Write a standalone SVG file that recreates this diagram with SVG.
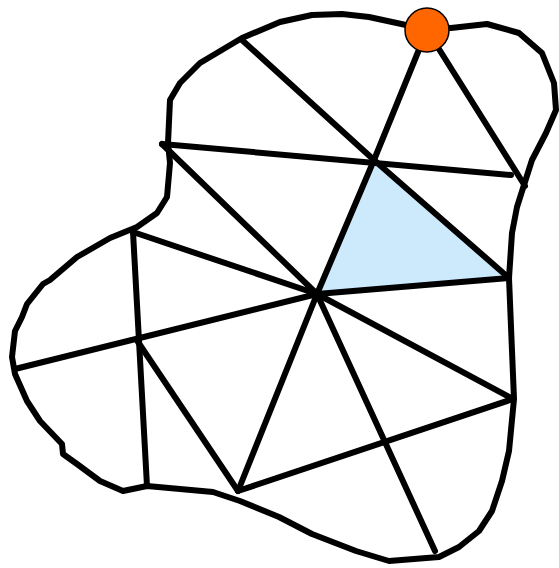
<svg xmlns="http://www.w3.org/2000/svg" width="559" height="568" viewBox="0 0 559 568">
<style>
.ln{stroke:#000;stroke-width:6;stroke-linecap:round;fill:none}
.bd{stroke:#000;stroke-width:6;stroke-linejoin:round;fill:none}
</style>
<rect width="559" height="568" fill="#fff"/>
<polygon points="374,160 317,294 509,278" fill="#cdeafd"/>
<g id="connectors">
<line class="ln" x1="242" y1="40" x2="374" y2="160"/>
<line class="ln" x1="427" y1="30" x2="374" y2="160"/>
<line class="ln" x1="427" y1="30" x2="525" y2="186"/>
<line class="ln" x1="162" y1="144" x2="511" y2="175"/>
<line class="ln" x1="162" y1="144" x2="317" y2="294"/>
<line class="ln" x1="374" y1="160" x2="509" y2="278"/>
<line class="ln" x1="374" y1="160" x2="317" y2="294"/>
<line class="ln" x1="317" y1="294" x2="509" y2="278"/>
<line class="ln" x1="133" y1="232" x2="317" y2="294"/>
<line class="ln" x1="133" y1="232" x2="147" y2="486"/>
<line class="ln" x1="15" y1="369" x2="317" y2="294"/>
<line class="ln" x1="138" y1="342" x2="238" y2="491"/>
<line class="ln" x1="317" y1="294" x2="238" y2="491"/>
<line class="ln" x1="317" y1="294" x2="513" y2="399"/>
<line class="ln" x1="317" y1="294" x2="435" y2="551"/>
<line class="ln" x1="238" y1="491" x2="513" y2="399"/>
</g>
<path id="boundary" class="bd" d="M242,38 L280,22 312,15 342,14 369,17 406,25 451,28 487,24 519,33 542,53 554,83 556,110 546,133 532,160 524,185 517,207 512,233 509,278 512,351 514,399 509,451 502,481 492,511 479,531 459,547 439,557 389,561 356,551 312,534 279,517 240,501 213,492 147,486 123,491 100,481 77,464 63,454 62,444 40,421 27,401 15,374 12,357 15,331 22,317 27,304 43,284 50,280 77,257 110,238 137,227 157,213 167,197 170,163 168,143 170,100 180,83 200,63 Z"/>
<g id="node-orange">
<circle cx="427" cy="30" r="22" fill="#ff6600" stroke="#000" stroke-width="1.5"/>
</g>
</svg>
